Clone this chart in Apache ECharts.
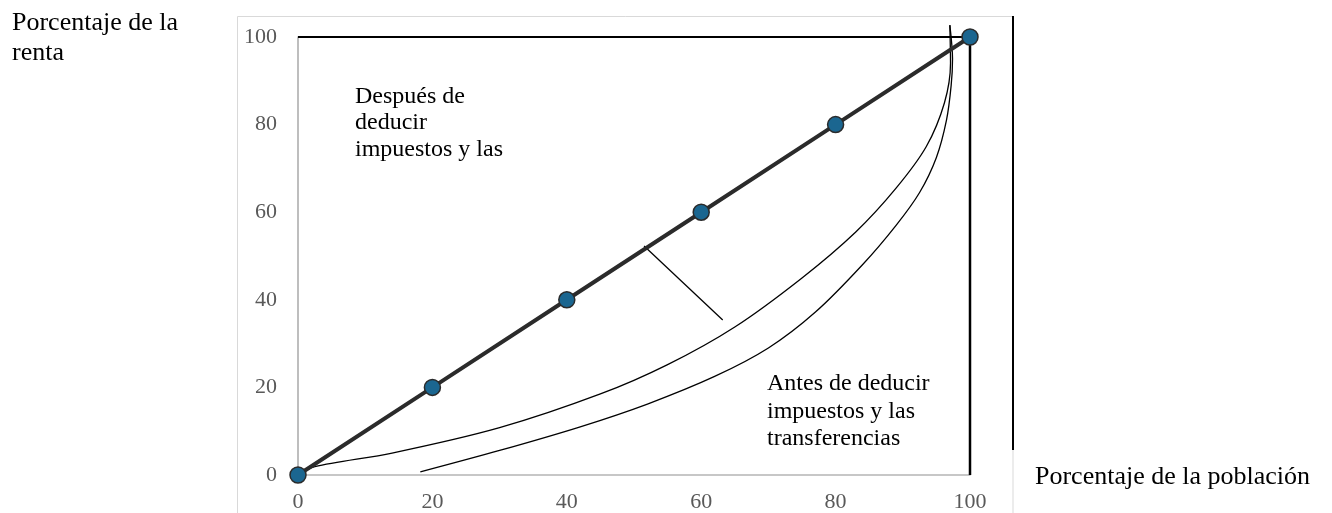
<!DOCTYPE html>
<html>
<head>
<meta charset="utf-8">
<script src="https://cdn.jsdelivr.net/npm/echarts@6/dist/echarts.min.js"></script>
<style>
html,body{margin:0;padding:0;background:#fff;}
#chart{width:1332px;height:513px;}
</style>
</head>
<body>
<div id="chart"></div>
<script>
// Tick labels
const xTicks = [0, 20, 40, 60, 80, 100];
const yTicks = [0, 20, 40, 60, 80, 100];

// Line of perfect equality (marked points)
const equalityX = [0, 20, 40, 60, 80, 100];
const equalityY = [0, 20, 40, 60, 80, 100];

// Curve after taxes and transfers (closer to diagonal)
const afterX = [0, 2.5, 14, 30, 45, 55, 65, 75, 83, 89, 93.5, 96.2, 97.1, 97.0];
const afterY = [0, 1.9, 5.0, 10.8, 18.5, 25.2, 33.8, 45.0, 55.5, 65.5, 75.0, 85.0, 94.0, 102.7];

// Curve before taxes and transfers
const beforeX = [18.2, 30, 42, 52, 62, 70, 77, 84, 89, 92.5, 95, 96.5, 97.2, 97.4, 97.0];
const beforeY = [0.7, 5.6, 11.0, 16.2, 22.5, 29.0, 37.2, 48.0, 57.0, 64.5, 72.5, 81.0, 89.0, 95.0, 102.7];

// Pointer line between diagonal and curve
const pointerX = [51.5, 63.2];
const pointerY = [52.3, 35.4];

// Frame lines (top at 100, right at 100)
const frameTopX = [0, 100];
const frameTopY = [100, 100];
const frameRightX = [100, 100];
const frameRightY = [0, 100];

// Texts
const yTitle = 'Porcentaje de la\nrenta';
const xTitle = 'Porcentaje de la población';
const afterLabel = 'Después de\ndeducir\nimpuestos y las';
const beforeLabel = 'Antes de deducir\nimpuestos y las\ntransferencias';

const zip = (xs, ys) => xs.map((x, i) => [x, ys[i]]);
const FONT = '"Liberation Serif", "Times New Roman", serif';

const chart = echarts.init(document.getElementById('chart'), null, {renderer: 'canvas'});
const option = {
  animation: false,
  backgroundColor: '#ffffff',
  grid: {left: 298, right: 362, top: 37, bottom: 38, containLabel: false},
  xAxis: {
    type: 'value', min: xTicks[0], max: xTicks[xTicks.length - 1], interval: 20,
    axisLine: {show: true, onZero: false, lineStyle: {color: '#b5b5b5', width: 1.5}},
    axisTick: {show: false},
    splitLine: {show: false},
    axisLabel: {color: '#595959', fontFamily: FONT, fontSize: 22, margin: 16}
  },
  yAxis: {
    type: 'value', min: yTicks[0], max: yTicks[yTicks.length - 1], interval: 20,
    axisLine: {show: true, onZero: false, lineStyle: {color: '#a8a8a8', width: 1.5}},
    axisTick: {show: false},
    splitLine: {show: false},
    axisLabel: {color: '#595959', fontFamily: FONT, fontSize: 22, margin: 21}
  },
  graphic: [
    {type: 'rect', shape: {x: 237.5, y: 16.5, width: 775.5, height: 600}, style: {fill: 'none', stroke: '#d9d9d9', lineWidth: 1}, z: 0, silent: true},
    {type: 'line', shape: {x1: 1013, y1: 16, x2: 1013, y2: 450}, style: {stroke: '#000', lineWidth: 2}, z: 1, silent: true},
    {type: 'text', left: 12, top: 8, style: {text: yTitle, font: '26px ' + FONT, fill: '#000', lineHeight: 30}, silent: true},
    {type: 'text', left: 1035, top: 462, style: {text: xTitle, font: '26px ' + FONT, fill: '#000', lineHeight: 30}, silent: true},
    {type: 'text', left: 355, top: 83, style: {text: afterLabel, font: '24px ' + FONT, fill: '#000', lineHeight: 26.5}, silent: true},
    {type: 'text', left: 767, top: 370, style: {text: beforeLabel, font: '24px ' + FONT, fill: '#000', lineHeight: 27.5}, silent: true}
  ],
  series: [
    {type: 'line', data: zip(frameTopX, frameTopY), symbol: 'none', lineStyle: {color: '#000', width: 2}, z: 2, silent: true},
    {type: 'line', data: zip(frameRightX, frameRightY), symbol: 'none', lineStyle: {color: '#000', width: 2.5}, z: 2, silent: true},
    {type: 'line', data: zip(afterX, afterY), symbol: 'none', smooth: 0.3, clip: false, lineStyle: {color: '#000', width: 1.3}, z: 3, silent: true},
    {type: 'line', data: zip(beforeX, beforeY), symbol: 'none', smooth: 0.3, clip: false, lineStyle: {color: '#000', width: 1.3}, z: 3, silent: true},
    {type: 'line', data: zip(pointerX, pointerY), symbol: 'none', lineStyle: {color: '#000', width: 1.3}, z: 3, silent: true},
    {type: 'line', data: zip(equalityX, equalityY), symbol: 'circle', symbolSize: 16,
      lineStyle: {color: '#2b2b2b', width: 4},
      itemStyle: {color: '#1b6690', borderColor: '#2b2b2b', borderWidth: 1.5}, z: 5, silent: true}
  ]
};
chart.setOption(option);
</script>
</body>
</html>
